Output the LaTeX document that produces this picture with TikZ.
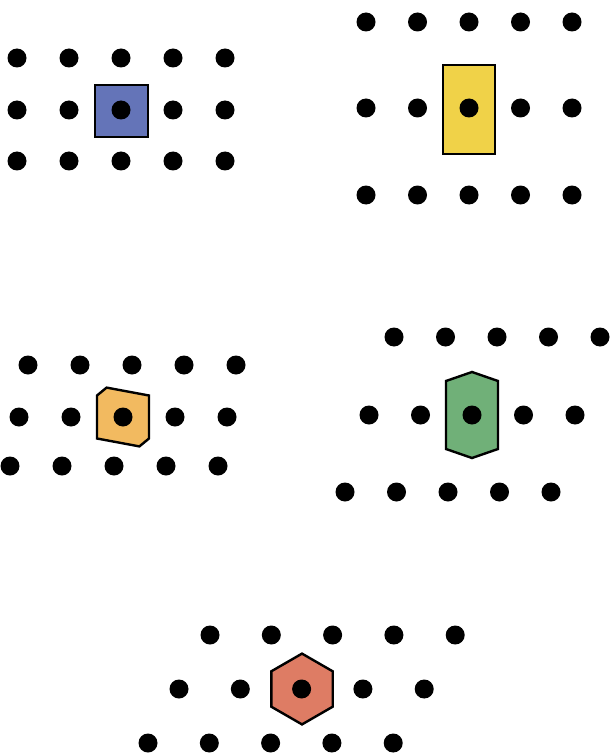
\documentclass[tikz,border=0pt]{standalone}
\definecolor{cellblue}{RGB}{100,116,184}
\definecolor{cellyellow}{RGB}{240,210,72}
\definecolor{cellorange}{RGB}{242,186,96}
\definecolor{cellgreen}{RGB}{112,176,120}
\definecolor{cellred}{RGB}{222,124,100}
\begin{document}
\begin{tikzpicture}[x=1pt,y=-1pt,
  dot/.style={circle,fill=black,draw=none,inner sep=0pt,minimum size=19pt},
  cell/.style={draw=black,line width=2.4pt,line join=miter}]
\useasboundingbox (0,0) rectangle (611,754);
% ---- cells ----
\draw[cell,fill=cellblue] (95,85) rectangle (148,137);
\draw[cell,fill=cellyellow] (443,65) rectangle (495,154);
\draw[cell,fill=cellorange] (123,417) ++(-26,-21.5) -- ++(9.6,-7.9) -- ++(42.4,7.9) -- ++(0,43) -- ++(-9.6,7.9) -- ++(-42.4,-7.9) -- cycle;
\draw[cell,fill=cellgreen] (472,372) -- (498,381) -- (498,449) -- (472,458) -- (446,449) -- (446,381) -- cycle;
\draw[cell,fill=cellred] (302,653.6) -- (332.7,671.3) -- (332.7,706.7) -- (302,724.4) -- (271.3,706.7) -- (271.3,671.3) -- cycle;
% ---- lattice points ----
\foreach \r/\y in {0/58,1/110,2/161}
  \foreach \c in {0,...,4}
    \node[dot] (a\r\c) at ({17+52*\c},\y) {};
\foreach \r/\y in {0/22,1/108,2/195}
  \foreach \c in {0,...,4}
    \node[dot] (b\r\c) at ({366+51.5*\c},\y) {};
\foreach \r/\y/\s in {0/365/28,1/417/19,2/466/10}
  \foreach \c in {0,...,4}
    \node[dot] (c\r\c) at ({\s+52*\c},\y) {};
\foreach \r/\y/\s in {0/337/394,1/415/369,2/492/345}
  \foreach \c in {0,...,4}
    \node[dot] (d\r\c) at ({\s+51.5*\c},\y) {};
\foreach \r/\y/\s in {0/635/210,1/689/179,2/743/148}
  \foreach \c in {0,...,4}
    \node[dot] (e\r\c) at ({\s+61.3*\c},\y) {};
\end{tikzpicture}
\end{document}
